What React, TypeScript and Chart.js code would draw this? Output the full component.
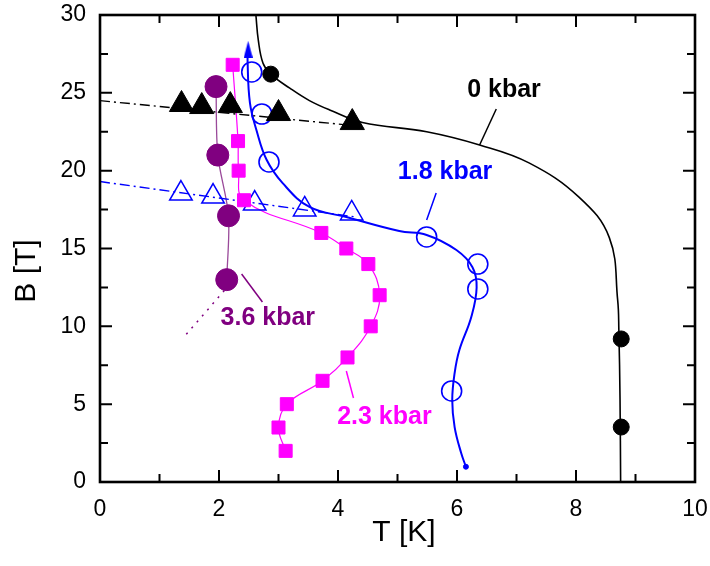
import React, { useEffect, useRef } from "react";
import { Chart, registerables } from "chart.js";

Chart.register(...registerables);

const FONT = "'Liberation Sans', Arial, Helvetica, sans-serif";

// axis ticks
const xMajor = [0, 2, 4, 6, 8, 10];
const xMinor = [1, 3, 5, 7, 9];
const yMajor = [0, 5, 10, 15, 20, 25, 30];
const yMinor = [2.5, 7.5, 12.5, 17.5, 22.5, 27.5];

// 0 kbar
const curve0T = [2.62, 2.66, 2.74, 2.87, 3.19, 3.52, 3.86, 4.41, 5.49, 6.38, 7.21, 8.05, 8.56, 8.7, 8.72, 8.74, 8.75];
const curve0B = [30, 28.4, 26.9, 26.2, 25.3, 24.5, 23.9, 23.1, 22.5, 21.65, 20.5, 18.3, 15.7, 11.7, 9.76, 5.3, 0];
const dots0T = [2.87, 8.76, 8.76];
const dots0B = [26.2, 9.19, 3.53];
const tri0T = [1.37, 1.71, 2.19, 3.0, 4.24];
const tri0B = [24.25, 24.12, 24.18, 23.67, 23.09];
const dash0T = [0, 4.25];
const dash0B = [24.5, 22.9];

// 1.8 kbar
const curve18T = [2.49, 2.48, 2.52, 2.63, 2.8, 3.07, 3.52, 4.14, 5.03, 5.49, 5.99, 6.26, 6.33, 6.24, 6.04, 5.96, 5.92, 5.96, 6.07, 6.15];
const curve18B = [27.8, 27.1, 24.35, 22.6, 20.7, 19.2, 17.67, 17.02, 16.12, 15.87, 14.9, 13.8, 12.5, 10.6, 8.48, 7.0, 5.27, 3.53, 1.86, 0.98];
const circ18T = [2.55, 2.72, 2.84, 5.49, 6.35, 6.35, 5.91];
const circ18B = [26.34, 23.64, 20.56, 15.74, 14.0, 12.4, 5.85];
const tri18T = [1.36, 1.9, 2.6, 3.44, 4.23];
const tri18B = [18.53, 18.34, 17.89, 17.51, 17.25];
const dash18T = [0, 4.31];
const dash18B = [19.3, 17.02];

// 2.3 kbar
const sq23T = [2.23, 2.32, 2.33, 2.42, 3.72, 4.14, 4.51, 4.7, 4.55, 4.16, 3.74, 3.14, 3.0, 3.12];
const sq23B = [26.8, 21.9, 20.0, 18.1, 16.0, 15.0, 14.0, 12.0, 10.0, 8.0, 6.5, 5.0, 3.5, 2.0];

// 3.6 kbar
const circ36T = [1.95, 1.98, 2.16, 2.13];
const circ36B = [25.4, 21.0, 17.1, 13.0];
const dot36T = [2.09, 1.43];
const dot36B = [12.3, 9.4];

// labels
const labelTexts = ["0 kbar", "1.8 kbar", "3.6 kbar", "2.3 kbar"];
const labelColors = ["#000000", "#0000FF", "#800080", "#FF00FF"];
const labelT = [6.79, 5.8, 2.82, 4.78];
const labelB = [25.2, 19.9, 10.53, 4.18];
const ptrT1 = [6.66, 5.65, 2.38, 4.14];
const ptrB1 = [23.96, 18.56, 13.36, 7.13];
const ptrT2 = [6.38, 5.49, 2.73, 4.26];
const ptrB2 = [21.65, 16.83, 11.56, 5.4];

const xTitle = "T [K]";
const yTitle = "B [T]";

const pts = (t: number[], b: number[]) => t.map((v, i) => ({ x: v, y: b[i] }));

export default function App() {
  const ref = useRef<HTMLCanvasElement | null>(null);

  useEffect(() => {
    const canvas = ref.current;
    if (!canvas) return;

    const arrow = document.createElement("canvas");
    arrow.width = 9;
    arrow.height = 17;
    const actx = arrow.getContext("2d")!;
    actx.fillStyle = "#0000FF";
    actx.beginPath();
    actx.moveTo(4.5, 0);
    actx.lineTo(9, 17);
    actx.lineTo(0, 17);
    actx.closePath();
    actx.fill();

    const decor = {
      id: "decor",
      afterDatasetsDraw(chart: any) {
        const ctx = chart.ctx;
        const xs = chart.scales.x;
        const ys = chart.scales.y;
        const a = chart.chartArea;
        ctx.save();
        // labels + pointers
        for (let i = 0; i < labelTexts.length; i++) {
          ctx.strokeStyle = labelColors[i];
          ctx.lineWidth = 1.5;
          ctx.beginPath();
          ctx.moveTo(xs.getPixelForValue(ptrT1[i]), ys.getPixelForValue(ptrB1[i]));
          ctx.lineTo(xs.getPixelForValue(ptrT2[i]), ys.getPixelForValue(ptrB2[i]));
          ctx.stroke();
          ctx.fillStyle = labelColors[i];
          ctx.font = `bold 25px ${FONT}`;
          ctx.textAlign = "center";
          ctx.textBaseline = "middle";
          ctx.fillText(labelTexts[i], xs.getPixelForValue(labelT[i]), ys.getPixelForValue(labelB[i]));
        }
        // frame
        ctx.strokeStyle = "#000";
        ctx.lineWidth = 2.6;
        ctx.strokeRect(a.left, a.top, a.right - a.left, a.bottom - a.top);
        // ticks
        ctx.lineWidth = 2;
        const tick = (v: number, len: number, horiz: boolean) => {
          if (horiz) {
            const px = xs.getPixelForValue(v);
            ctx.moveTo(px, a.bottom);
            ctx.lineTo(px, a.bottom - len);
            ctx.moveTo(px, a.top);
            ctx.lineTo(px, a.top + len);
          } else {
            const py = ys.getPixelForValue(v);
            ctx.moveTo(a.left, py);
            ctx.lineTo(a.left + len, py);
            ctx.moveTo(a.right, py);
            ctx.lineTo(a.right - len, py);
          }
        };
        ctx.beginPath();
        xMajor.forEach((v) => tick(v, 12, true));
        xMinor.forEach((v) => tick(v, 8, true));
        yMajor.forEach((v) => tick(v, 12, false));
        yMinor.forEach((v) => tick(v, 8, false));
        ctx.stroke();
        // titles
        ctx.fillStyle = "#000";
        ctx.font = `30px ${FONT}`;
        ctx.textAlign = "center";
        ctx.textBaseline = "middle";
        ctx.fillText(xTitle, 404, 533);
        ctx.translate(27, 271);
        ctx.rotate(-Math.PI / 2);
        ctx.fillText(yTitle, 0, 0);
        ctx.restore();
      },
    };

    const lineDs = (data: any[], color: string, width: number, extra: any = {}) => ({
      data,
      showLine: true,
      borderColor: color,
      borderWidth: width,
      pointRadius: 0,
      pointHoverRadius: 0,
      fill: false,
      ...extra,
    });

    const markDs = (data: any[], style: any, radius: number, fillC: string, borderC: string, bw: number) => ({
      data,
      showLine: false,
      pointStyle: style,
      pointRadius: radius,
      pointHoverRadius: radius,
      pointBackgroundColor: fillC,
      pointBorderColor: borderC,
      pointBorderWidth: bw,
    });

    const chart = new Chart(canvas, {
      type: "scatter",
      data: {
        datasets: [
          markDs(pts(dots0T, dots0B), "circle", 8, "#000", "#000", 1),
          markDs(pts(tri0T, tri0B), "triangle", 14, "#000", "#000", 1),
          markDs(pts(circ36T, circ36B), "circle", 11, "#800080", "#800080", 1),
          markDs(pts(sq23T, sq23B), "rect", 9.2, "#FF00FF", "#FF00FF", 1),
          markDs(pts(circ18T, circ18B), "circle", 10, "rgba(0,0,0,0)", "#0000FF", 1.6),
          markDs(pts(tri18T, tri18B), "triangle", 13, "rgba(0,0,0,0)", "#0000FF", 1.5),
          markDs([{ x: curve18T[0], y: curve18B[0] }], arrow, 8, "#0000FF", "#0000FF", 1),
          markDs([{ x: curve18T[curve18T.length - 1], y: curve18B[curve18B.length - 1] }], "circle", 2.5, "#0000FF", "#0000FF", 1),
          lineDs(pts(curve0T, curve0B), "#000", 1.6, { tension: 0.4 }),
          lineDs(pts(dash0T, dash0B), "#000", 1.4, { borderDash: [10, 4, 2, 4] }),
          lineDs(pts(curve18T, curve18B), "#0000FF", 2, { tension: 0.4 }),
          lineDs(pts(dash18T, dash18B), "#0000FF", 1.4, { borderDash: [10, 4, 2, 4] }),
          lineDs(pts(sq23T, sq23B), "#FF00FF", 1.2, { tension: 0.4 }),
          lineDs(pts(circ36T, circ36B), "#9A4A9A", 1.3, { tension: 0.3 }),
          lineDs(pts(dot36T, dot36B), "#800080", 1.5, { borderDash: [2, 6] }),
        ],
      },
      options: {
        animation: false,
        responsive: false,
        devicePixelRatio: 1,
        layout: { padding: { top: 15, right: 14, left: 0, bottom: 0 } },
        plugins: { legend: { display: false }, tooltip: { enabled: false } },
        events: [],
        scales: {
          x: {
            type: "linear",
            min: 0,
            max: 10,
            position: "bottom",
            grid: { display: false, drawTicks: false },
            border: { display: false },
            ticks: {
              stepSize: 2,
              color: "#000",
              padding: 14,
              font: { size: 23, family: FONT },
            },
            afterFit: (s: any) => {
              s.height = 84;
              s.paddingLeft = 0;
              s.paddingRight = 0;
            },
          },
          y: {
            type: "linear",
            min: 0,
            max: 30,
            position: "left",
            grid: { display: false, drawTicks: false },
            border: { display: false },
            ticks: {
              stepSize: 5,
              color: "#000",
              padding: 14,
              font: { size: 23, family: FONT },
            },
            afterFit: (s: any) => {
              s.width = 100;
              s.paddingTop = 0;
              s.paddingBottom = 0;
            },
          },
        },
      },
      plugins: [decor],
    } as any);

    return () => chart.destroy();
  }, []);

  return (
    <div style={{ position: "fixed", left: 0, top: 0, width: 710, height: 566, background: "#fff" }}>
      <canvas ref={ref} width={710} height={566} style={{ width: 710, height: 566 }} />
    </div>
  );
}
